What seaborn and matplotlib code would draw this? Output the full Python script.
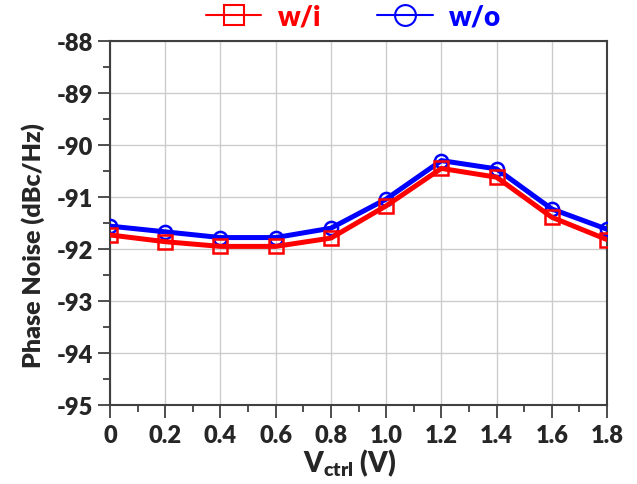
import matplotlib
matplotlib.use("Agg")
import matplotlib.pyplot as plt
import seaborn as sns
import pandas as pd
from matplotlib.lines import Line2D
from matplotlib.ticker import MultipleLocator

vctrl = [0.0, 0.2, 0.4, 0.6, 0.8, 1.0, 1.2, 1.4, 1.6, 1.8]
pn_wi = [-91.73, -91.86, -91.95, -91.95, -91.79, -91.17, -90.45, -90.62, -91.39, -91.82]
pn_wo = [-91.56, -91.67, -91.78, -91.78, -91.60, -91.04, -90.30, -90.46, -91.23, -91.62]
series_names = ["w/i", "w/o"]
xtick_labels = ["0", "0.2", "0.4", "0.6", "0.8", "1.0", "1.2", "1.4", "1.6", "1.8"]
yticks = [-95, -94, -93, -92, -91, -90, -89, -88]

W = "heavy"
sns.set_style("white")
plt.rcParams["font.family"] = ["Lato", "DejaVu Sans"]
plt.rcParams["font.weight"] = W
plt.rcParams["mathtext.fontset"] = "custom"
plt.rcParams["mathtext.rm"] = "Lato:heavy"
plt.rcParams["mathtext.it"] = "Lato:heavy"
plt.rcParams["mathtext.bf"] = "Lato:heavy"

df_wi = pd.DataFrame({"V": vctrl, "PN": pn_wi})
df_wo = pd.DataFrame({"V": vctrl, "PN": pn_wo})

fig = plt.figure(figsize=(6.37, 4.85), dpi=100)
ax = fig.add_axes([0.1727, 0.1629, 0.953 - 0.1727, 0.9134 - 0.1629])

ax.grid(True, color="#cccccc", lw=1.0)
ax.set_axisbelow(True)

sns.lineplot(data=df_wo, x="V", y="PN", ax=ax, color="#0000ff", lw=3.6,
             marker="o", ms=9.5, mfc="none", mec="#0000ff", mew=1.8, sort=False, zorder=3)
sns.lineplot(data=df_wi, x="V", y="PN", ax=ax, color="#ff0000", lw=3.6,
             marker="s", ms=9.5, mfc="none", mec="#ff0000", mew=1.8, sort=False, zorder=4)

ax.set_xlim(0, 1.8)
ax.set_ylim(-95, -88)
ax.set_xticks(vctrl)
ax.set_xticklabels(xtick_labels)
ax.set_yticks(yticks)
ax.set_yticklabels([str(v) for v in yticks])
ax.xaxis.set_minor_locator(MultipleLocator(0.1))
ax.yaxis.set_minor_locator(MultipleLocator(0.5))
ax.tick_params(axis="both", which="major", direction="out", length=9, width=1.3,
               color="#404040", labelsize=17, pad=3, bottom=True, left=True)
ax.tick_params(axis="x", which="major", pad=5)
ax.tick_params(axis="both", which="minor", direction="out", length=5, width=1.3,
               color="#404040", bottom=True, left=True)
for lab in ax.get_xticklabels() + ax.get_yticklabels():
    lab.set_fontweight(W)

for sp in ax.spines.values():
    sp.set_color("#404040")
    sp.set_linewidth(1.5)

ax.set_xlabel(r"V$_{\mathrm{ctrl}}$ (V)", fontsize=20, fontweight=W)
ax.set_ylabel("Phase Noise (dBc/Hz)", fontsize=18, fontweight=W)
ax.xaxis.set_label_coords(0.483, -0.115)
ax.yaxis.set_label_coords(-0.13, 0.44)

handles = [
    Line2D([], [], color="#ff0000", lw=1.5, marker="s", ms=14, mfc="none", mec="#ff0000", mew=1.5),
    Line2D([], [], color="#0000ff", lw=1.5, marker="o", ms=15, mfc="none", mec="#0000ff", mew=1.5),
]
leg = ax.legend(handles, series_names, loc="lower center", bbox_to_anchor=(0.49, 1.0),
                ncol=2, frameon=False, fontsize=20, handlelength=2.0, columnspacing=2.0,
                handletextpad=0.6, borderaxespad=0.0)
for txt, c in zip(leg.get_texts(), ["#ff0000", "#0000ff"]):
    txt.set_color(c)
    txt.set_fontweight(W)

fig.savefig("out.png", dpi=100)
